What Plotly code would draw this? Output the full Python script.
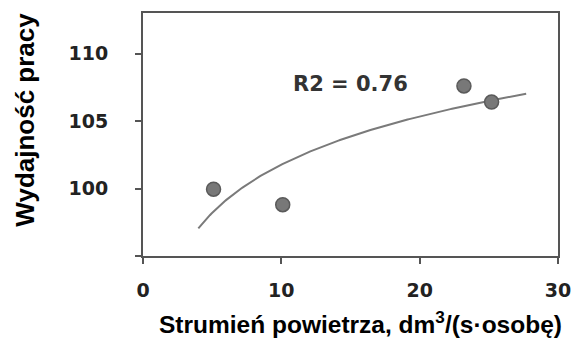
import numpy as np
import plotly.graph_objects as go

# Data
air_flow = [5.1, 10.1, 23.2, 25.2]          # dm3/(s·osobę)
performance = [99.95, 98.8, 107.6, 106.4]   # Wydajność pracy
fit_x_start = 4.0
fit_x_end = 27.7
r2_label = "R2 = 0.76"

x_ticks = [0, 10, 20, 30]
y_ticks = [95, 100, 105, 110]
y_tick_text = ["", "100", "105", "110"]

# Logarithmic trend line fitted to the data points
b, a = np.polyfit(np.log(air_flow), performance, 1)
xf = np.linspace(fit_x_start, fit_x_end, 200)
yf = a + b * np.log(xf)

fig = go.Figure()
fig.add_trace(go.Scatter(x=xf, y=yf, mode="lines",
                         line=dict(color="#7a7a7a", width=2), hoverinfo="skip"))
fig.add_trace(go.Scatter(x=air_flow, y=performance, mode="markers",
                         marker=dict(size=14, color="#787878",
                                     line=dict(color="#5a5a5a", width=1.5))))

tickfont = dict(family="DejaVu Sans", size=19, color="#222", weight="bold")
axis_common = dict(showline=True, mirror=True, linecolor="#555", linewidth=2,
                   showgrid=False, zeroline=False, ticks="outside",
                   ticklen=6, tickwidth=1.5, tickcolor="#555", tickfont=tickfont)

fig.update_xaxes(range=[0, 30], tickvals=x_ticks, ticklabelstandoff=10, **axis_common)
fig.update_yaxes(range=[95, 113], tickvals=y_ticks, ticktext=y_tick_text,
                 ticklabelstandoff=23, **axis_common)

fig.add_annotation(x=15.0, y=107.75, xref="x", yref="y", text=r2_label,
                   showarrow=False, xanchor="center", yanchor="middle",
                   font=dict(family="DejaVu Sans", size=21, color="#333", weight="bold"))
fig.add_annotation(x=0.5236, y=-0.275, xref="paper", yref="paper",
                   text="Strumień powietrza, dm<sup>3</sup>/(s·osobę)",
                   showarrow=False, xanchor="center", yanchor="middle",
                   font=dict(family="Liberation Sans", size=24.5, color="#000", weight="bold"))
fig.add_annotation(x=-0.285, y=0.56, xref="paper", yref="paper",
                   text="Wydajność pracy", textangle=-90,
                   showarrow=False, xanchor="center", yanchor="middle",
                   font=dict(family="Liberation Sans", size=26, color="#000", weight="bold"))

fig.update_layout(width=582, height=339, showlegend=False,
                  margin=dict(l=143, r=16, t=11, b=83),
                  paper_bgcolor="white", plot_bgcolor="white")

fig.write_html("out.html")
